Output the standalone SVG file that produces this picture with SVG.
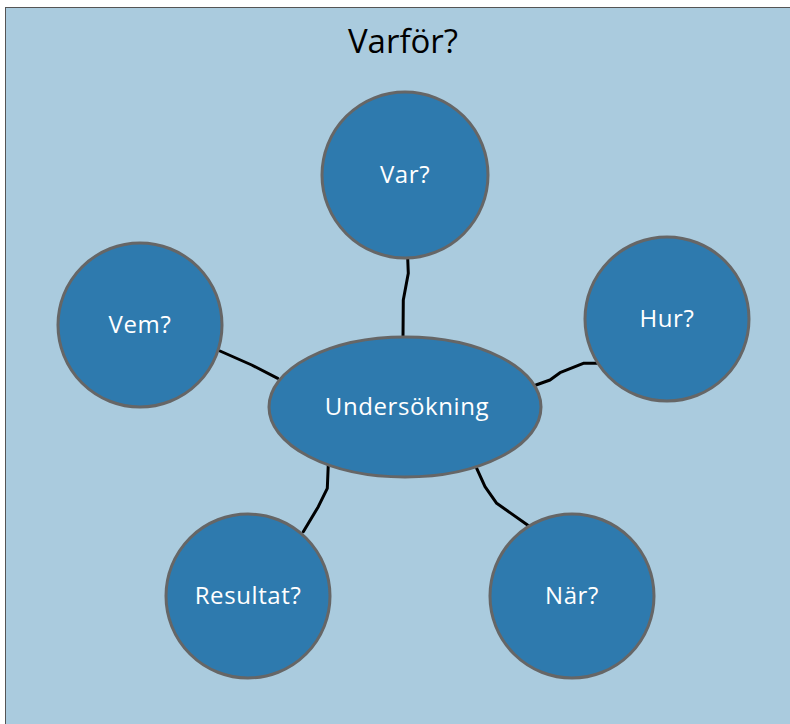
<svg xmlns="http://www.w3.org/2000/svg" width="790" height="724" viewBox="0 0 790 724">
<style>
.n{fill:#2E7AAE;stroke:#666;stroke-width:3}
.t{font-family:"Open Sans","Liberation Sans",sans-serif;font-size:24px;letter-spacing:0.6px;fill:#fff;text-anchor:middle}
.c{fill:none;stroke:#000;stroke-width:3;stroke-linejoin:round;stroke-linecap:round}
</style>
<rect width="790" height="724" fill="#fff"/>
<rect x="5.5" y="7.5" width="790" height="720" fill="#AACBDE" stroke="#555" stroke-width="1"/>
<text x="403" y="53" font-family="Open Sans, Liberation Sans, sans-serif" font-size="33" text-anchor="middle" fill="#000">Varför?</text>
<g id="connectors">
<path class="c" d="M407.7,258.3 L408.3,273.3 L403.3,300 L403,337.7"/>
<path class="c" d="M220,351 L251.7,365 L277.7,378.3"/>
<path class="c" d="M536,385 L550,380 L560,372.7 L583.3,363.3 L604.3,363.3"/>
<path class="c" d="M328.3,464 L327.3,488.3 L318.3,506.7 L303.3,531.7"/>
<path class="c" d="M476.7,468.3 L485,486.7 L496.7,503.3 L530,526.7"/>
</g>
<g id="var"><circle class="n" cx="405" cy="175" r="83"/><text class="t" x="405" y="183">Var?</text></g>
<g id="vem"><circle class="n" cx="140" cy="325" r="82"/><text class="t" x="140" y="333">Vem?</text></g>
<g id="hur"><circle class="n" cx="667" cy="319" r="82"/><text class="t" x="667" y="327">Hur?</text></g>
<g id="undersokning"><ellipse class="n" cx="405" cy="407" rx="136" ry="70"/><text class="t" x="407" y="415">Undersökning</text></g>
<g id="resultat"><circle class="n" cx="248" cy="596" r="82"/><text class="t" x="248" y="604">Resultat?</text></g>
<g id="nar"><circle class="n" cx="572" cy="596" r="82"/><text class="t" x="572" y="604">När?</text></g>
</svg>
